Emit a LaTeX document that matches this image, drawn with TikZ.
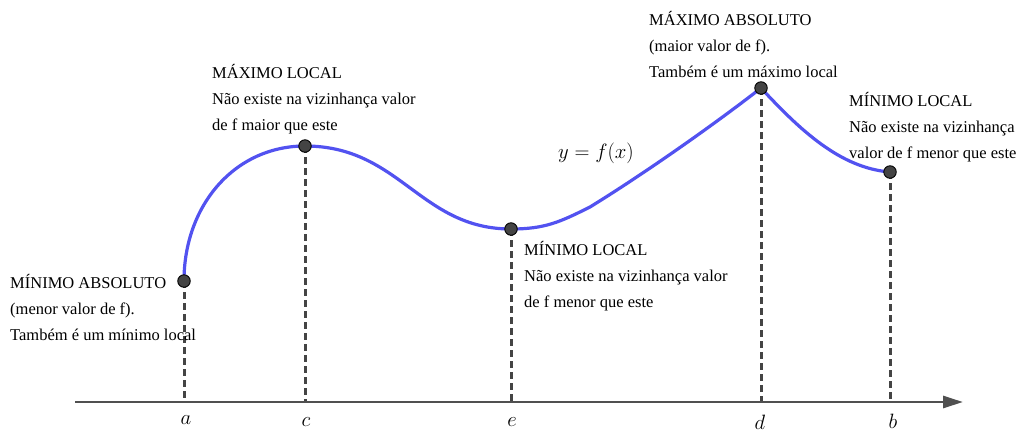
\documentclass[tikz,border=0pt]{standalone}
\usepackage{fontspec}
\setmainfont{Liberation Serif}
\usetikzlibrary{arrows.meta}
\definecolor{curveblue}{RGB}{82,82,240}
\definecolor{dgray}{RGB}{68,68,68}
\definecolor{axgray}{RGB}{80,80,80}
\begin{document}
\begin{tikzpicture}[x=1pt,y=-1pt,
  ptdot/.style={circle,draw=black,fill=dgray,line width=0.9pt,minimum size=12.5pt,inner sep=0pt},
  drop/.style={draw=dgray,line width=3pt,dash pattern=on 7pt off 4pt},
  axisline/.style={draw=axgray,line width=2.8pt,-{Triangle[length=20pt,width=12pt]}},
  fcurve/.style={draw=curveblue,line width=3.2pt},
  lbl/.style={align=left,anchor=base west,inner sep=0pt,font=\fontsize{16.5}{26}\selectfont},
  axlbl/.style={font=\fontsize{20.74}{22}\selectfont,inner sep=0pt}]
\useasboundingbox (0,0) rectangle (1024,432);

% axis
\coordinate (ax0) at (75,402);
\coordinate (ax1) at (963,402);
\coordinate (fa) at (184,402);
\coordinate (fc) at (305,402);
\coordinate (fe) at (511,402);
\coordinate (fd) at (761,402);
\coordinate (fb) at (890,402);

% points
\coordinate (A) at (184,281);
\coordinate (C) at (305,146);
\coordinate (E) at (511,229);
\coordinate (D) at (761,88);
\coordinate (B) at (890,172);

% dashed drops
\draw[drop] (A) -- (fa);
\draw[drop] (C) -- (fc);
\draw[drop] (E) -- (fe);
\draw[drop] (D) -- (fd);
\draw[drop] (B) -- (fb);

\draw[axisline] (ax0) -- (ax1);

% curve
\draw[fcurve] (A) .. controls (184,205) and (235,146) .. (C)
  .. controls (400,146) and (420,229) .. (E)
  .. controls (545,229) and (560,222) .. (590,207)
  .. controls (650,170) and (720,120) .. (D)
  .. controls (800,130) and (840,168) .. (B);

% point markers
\node[ptdot] (pa) at (A) {};
\node[ptdot] (pc) at (C) {};
\node[ptdot] (pe) at (E) {};
\node[ptdot] (pd) at (D) {};
\node[ptdot] (pb) at (B) {};

% axis labels
\node[axlbl] (la) at (186,420) {$a$};
\node[axlbl] (lc) at (306,422) {$c$};
\node[axlbl] (le) at (512,422) {$e$};
\node[axlbl] (ld) at (760,422) {$d$};
\node[axlbl] (lb) at (893,421) {$b$};

% function label
\node[font=\fontsize{20.74}{22}\selectfont,inner sep=0pt] (fx) at (596,153) {$y=f(x)$};

% text labels (base anchor = baseline of last line)
\node[lbl] (tA) at (10,340) {MÍNIMO ABSOLUTO\\(menor valor de f).\\Também é um mínimo local};
\node[lbl] (tC) at (212,130) {MÁXIMO LOCAL\\Não existe na vizinhança valor\\de f maior que este};
\node[lbl] (tE) at (524,307) {MÍNIMO LOCAL\\Não existe na vizinhança valor\\de f menor que este};
\node[lbl] (tD) at (649,77) {MÁXIMO ABSOLUTO\\(maior valor de f).\\Também é um máximo local};
\node[lbl] (tB) at (849,158) {MÍNIMO LOCAL\\Não existe na vizinhança\\valor de f menor que este};
\end{tikzpicture}
\end{document}
